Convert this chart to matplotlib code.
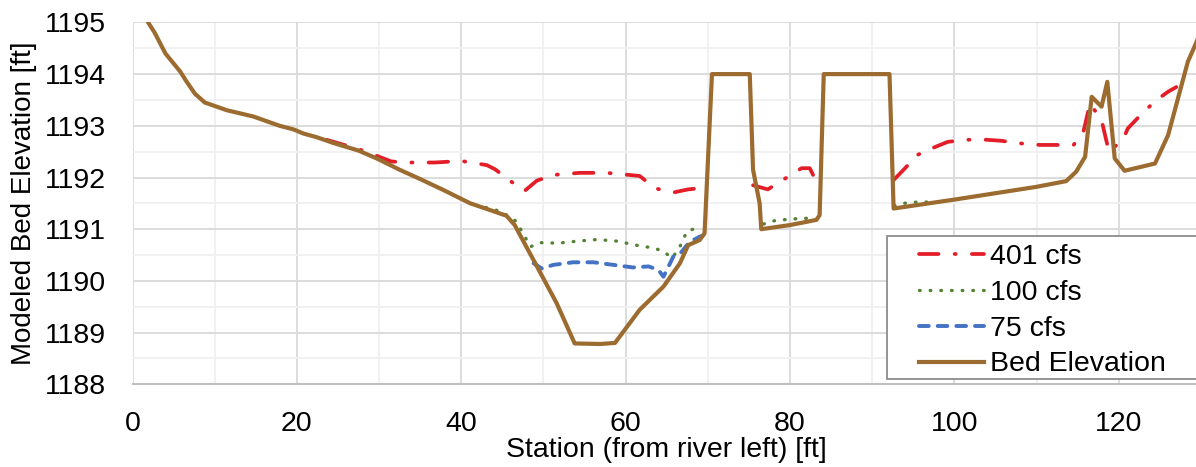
import numpy as np
import matplotlib
matplotlib.use("Agg")
import matplotlib.pyplot as plt
from matplotlib.patches import Rectangle
from matplotlib.ticker import MultipleLocator

plt.rcParams["font.family"] = ["Liberation Sans", "DejaVu Sans"]

# Bed elevation profile (station ft, elevation ft)
bed_x = [0.0, 1.9, 2.7, 4.0, 5.8, 6.6, 7.6, 8.8, 11.5, 14.7, 17.9, 19.6, 20.8, 22.4,
         24.4, 27.5, 29.7, 32.5, 35.0, 37.8, 41.1, 43.5, 45.5, 46.5, 48.8, 51.6,
         53.8, 56.9, 58.7, 61.7, 64.6, 66.6, 67.6, 69.0, 69.6, 70.5, 75.1, 75.5,
         76.3, 76.5, 80.0, 83.2, 83.6, 84.1, 92.1, 92.6, 100.3, 110.0, 113.6,
         114.8, 115.9, 116.7, 117.9, 118.6, 119.5, 120.7, 124.4, 126.0, 128.4,
         129.4, 130.0]
bed_y = [1195.6, 1195.0, 1194.8, 1194.4, 1194.05, 1193.85, 1193.62, 1193.45, 1193.3,
         1193.18, 1193.0, 1192.93, 1192.85, 1192.78, 1192.67, 1192.52, 1192.37,
         1192.15, 1191.97, 1191.76, 1191.5, 1191.37, 1191.26, 1191.08, 1190.4,
         1189.57, 1188.79, 1188.78, 1188.8, 1189.44, 1189.89, 1190.34, 1190.69,
         1190.79, 1190.92, 1194.0, 1194.0, 1192.15, 1191.5, 1191.0, 1191.08,
         1191.18, 1191.27, 1194.0, 1194.0, 1191.4, 1191.58, 1191.82, 1191.93,
         1192.11, 1192.4, 1193.56, 1193.37, 1193.85, 1192.37, 1192.13, 1192.27,
         1192.82, 1194.24, 1194.6, 1194.85]

# modeled water surfaces, NaN where the section is dry
nan = np.nan
q401_x = [23.6, 27.5, 29.7, 31.5, 33.6, 36.8, 40.0, 43.1, 44.1, 45.9, 47.7, 49.2,
          51.2, 54.4, 57.7, 61.7, 63.6, 65.8, 67.6, 69.5, nan,
          75.5, 77.3, 79.2, 81.4, 82.4, 82.8, nan,
          92.6, 94.0, 95.4, 97.8, 99.2, 101.5, 103.9, 105.7, 108.0, 110.4, 114.5,
          115.7, 116.5, 117.9, 118.8, 120.5, 121.1, 122.9, 124.6, 126.0, 127.0]
q401_y = [1192.73, 1192.55, 1192.42, 1192.31, 1192.29, 1192.29, 1192.32, 1192.24,
          1192.16, 1191.94, 1191.74, 1191.94, 1192.05, 1192.09, 1192.09, 1192.03,
          1191.79, 1191.71, 1191.77, 1191.8, nan,
          1191.85, 1191.77, 1191.96, 1192.18, 1192.18, 1192.05, nan,
          1191.95, 1192.18, 1192.43, 1192.6, 1192.69, 1192.73, 1192.73, 1192.71,
          1192.66, 1192.63, 1192.63, 1192.89, 1193.43, 1193.11, 1192.5, 1192.73,
          1192.95, 1193.25, 1193.5, 1193.66, 1193.75]

q100_x = [43.0, 44.9, 46.7, 47.4, 48.0, 48.4, 49.6, 51.8, 54.2, 56.5, 58.9, 61.3,
          63.6, 64.8, 65.6, 66.4, 67.0, 67.4, 68.2, 69.0, nan,
          76.8, 77.6, 78.8, 80.0, 81.2, 82.4, 83.2, nan,
          92.7, 93.8, 95.0, 96.2, 97.0]
q100_y = [1191.42, 1191.34, 1191.15, 1190.95, 1190.78, 1190.66, 1190.74, 1190.73,
          1190.77, 1190.80, 1190.77, 1190.69, 1190.63, 1190.55, 1190.44, 1190.6,
          1190.79, 1190.95, 1191.0, 1190.85, nan,
          1191.1, 1191.15, 1191.18, 1191.19, 1191.21, 1191.21, 1191.21, nan,
          1191.45, 1191.5, 1191.52, 1191.53, 1191.52]

q75_x = [48.8, 49.8, 51.2, 53.6, 56.1, 58.5, 60.9, 62.8, 64.0, 64.6, 65.4, 65.8,
         66.8, 67.8, 68.6, 69.4]
q75_y = [1190.34, 1190.24, 1190.31, 1190.36, 1190.36, 1190.31, 1190.26, 1190.28,
         1190.21, 1190.08, 1190.34, 1190.47, 1190.56, 1190.76, 1190.82, 1190.88]

W, H = 1196, 467
fig = plt.figure(figsize=(W / 100, H / 100), dpi=100)
ax = fig.add_axes([132.5 / W, (H - 384.3) / H, (1201 - 132.5) / W, (384.3 - 22.4) / H])

l1, = ax.plot(q401_x, q401_y, color="#e31e28", lw=2.7, dashes=(5.2, 4.3, 0.3, 4.3),
              dash_capstyle="round", label="401 cfs")
l2, = ax.plot(q100_x, q100_y, color="#548235", lw=2.4, dashes=(0.2, 3.0),
              dash_capstyle="round", label="100 cfs")
l3, = ax.plot(q75_x, q75_y, color="#4472c4", lw=2.8, dashes=(2.5, 2.3),
              dash_capstyle="round", label="75 cfs")
l4, = ax.plot(bed_x, bed_y, color="#9c6b30", lw=3.0, solid_joinstyle="round",
              label="Bed Elevation")

ax.set_xlim(0, 130)
ax.set_ylim(1188, 1195)
ax.set_xticks(range(0, 121, 20))
ax.set_yticks(range(1188, 1196))
ax.xaxis.set_minor_locator(MultipleLocator(10))
ax.yaxis.set_minor_locator(MultipleLocator(0.5))
ax.grid(which="major", color="#d9d9d9", lw=1.3)
ax.grid(which="minor", color="#f0f0f0", lw=1.3)
ax.set_axisbelow(True)
ax.tick_params(which="both", length=0, labelsize=20.5, pad=19)
for s in ["top", "right", "left"]:
    ax.spines[s].set_visible(False)
ax.spines["bottom"].set_color("#bfbfbf")
ax.spines["bottom"].set_linewidth(1.5)

ax.set_ylabel("Modeled Bed Elevation [ft]", fontsize=20, labelpad=6)
ax.set_xlabel("Station (from river left) [ft]", fontsize=20.5, labelpad=0)

# legend box runs off the right edge like the original
ax.add_patch(Rectangle((887 / W, (H - 379) / H), 330 / W, 143 / H,
                       transform=fig.transFigure, facecolor="white",
                       edgecolor="#8c8c8c", lw=1.3, clip_on=False, zorder=5))
leg = fig.legend(handles=[l1, l2, l3, l4], loc="upper left",
                 bbox_to_anchor=(919 / W, 1 - 244 / H), frameon=False,
                 fontsize=20.5, handlelength=2.28, handletextpad=0.21,
                 labelspacing=0.345, borderpad=0, borderaxespad=0)
leg.set_zorder(6)

fig.savefig("out.png", dpi=100)
